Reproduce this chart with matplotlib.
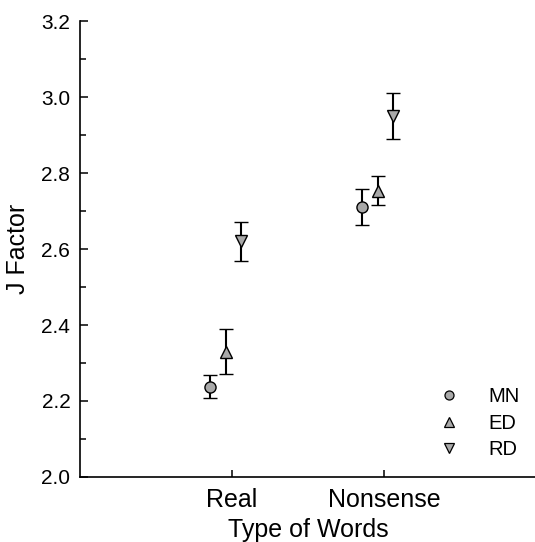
import matplotlib
matplotlib.use("Agg")
import matplotlib.pyplot as plt
from matplotlib.lines import Line2D
from matplotlib.ticker import MultipleLocator

# valeurs
categories = ["Real", "Nonsense"]
groups = ["MN", "ED", "RD"]
means = {
    "MN": [2.238, 2.711],
    "ED": [2.330, 2.754],
    "RD": [2.620, 2.950],
}
errors = {
    "MN": [0.030, 0.048],
    "ED": [0.060, 0.038],
    "RD": [0.052, 0.061],
}
offsets = {"MN": -0.145, "ED": -0.04, "RD": 0.06}
markers = {"MN": "o", "ED": "^", "RD": "v"}

plt.rcParams["font.family"] = ["Liberation Sans", "DejaVu Sans"]

fig = plt.figure(figsize=(5.35, 5.42), dpi=100)
ax = fig.add_axes([0.1495, 0.12, 0.8525, 0.841])

fill = "#a9a9a9"
for g in groups:
    xs = [i + 1 + offsets[g] for i in range(len(categories))]
    ms = 8 if g == "MN" else 9
    ax.errorbar(xs, means[g], yerr=errors[g], fmt=markers[g], ms=ms,
                mfc=fill, mec="black", mew=1.0, ecolor="black",
                elinewidth=1.5, capsize=5, capthick=1.5, zorder=3)

ax.set_xlim(0, 3)
ax.set_ylim(2.0, 3.2)
ax.set_xticks([1, 2])
ax.set_xticklabels(categories, fontsize=18)
ax.yaxis.set_major_locator(MultipleLocator(0.2))
ax.yaxis.set_minor_locator(MultipleLocator(0.1))
ax.set_yticklabels([f"{v:.1f}" for v in ax.get_yticks()], fontsize=15)
ax.tick_params(axis="y", which="major", direction="in", length=6, width=1.1, pad=7)
ax.tick_params(axis="y", which="minor", direction="in", length=4.3, width=1.1)
ax.tick_params(axis="x", which="major", direction="in", length=5, width=1.1, pad=8)

for side in ["top", "right"]:
    ax.spines[side].set_visible(False)
for side in ["left", "bottom"]:
    ax.spines[side].set_linewidth(1.2)

ax.set_xlabel("Type of Words", fontsize=18, labelpad=4)
ax.set_ylabel("J Factor", fontsize=18, labelpad=8)

handles = [Line2D([], [], ls="none", marker=markers[g], ms=6.5, mfc=fill,
                  mec="black", mew=0.9) for g in groups]
ax.legend(handles, groups, loc="center left", bbox_to_anchor=(0.748, 0.118),
          frameon=False, fontsize=14.5, handlelength=1.0, handletextpad=1.45,
          labelspacing=0.36, borderpad=0.4)

fig.savefig("out.png", dpi=100)
